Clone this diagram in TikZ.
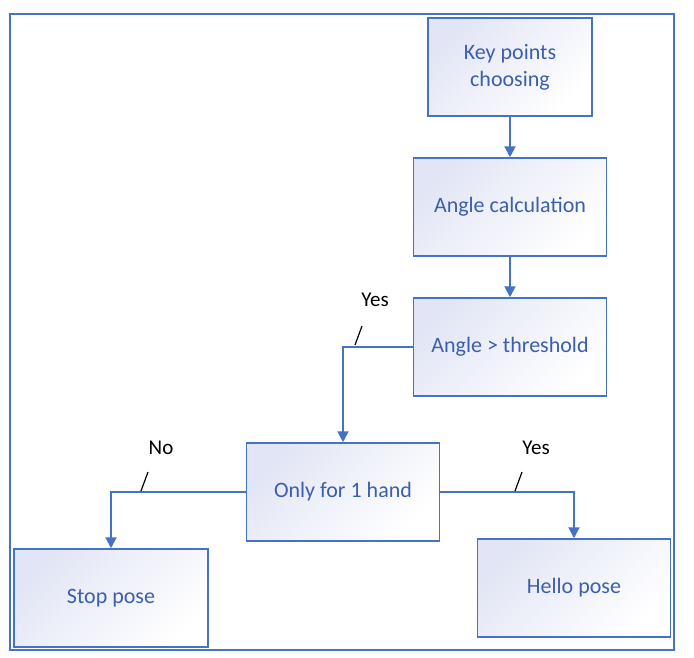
\documentclass[tikz,border=0pt]{standalone}
\usepackage{fontspec}
\setmainfont{Carlito}
\usetikzlibrary{arrows.meta}
\definecolor{bord}{HTML}{4472C4}
\definecolor{txt}{HTML}{3B5FAE}
\definecolor{shade}{HTML}{E2E5F5}
\begin{document}
\begin{tikzpicture}[x=1pt,y=-1pt,
  proc/.style={draw=bord,line width=1.5pt,left color=shade,right color=white,shading angle=45,
    text=txt,align=center,font=\fontsize{22}{27}\selectfont,inner sep=0pt},
  conn/.style={draw=bord,line width=2pt,-{Triangle[length=11pt,width=11pt]}},
  lbl/.style={font=\fontsize{21}{25}\selectfont,text=black},
  tick/.style={draw=black,line width=1.2pt}]
\useasboundingbox (0,0) rectangle (694,657);
\draw[bord,line width=2pt] (10,14) rectangle (674,650);
\node[proc,minimum width=164pt,minimum height=98pt] (key) at (510,67) {Key points\\choosing};
\node[proc,minimum width=193pt,minimum height=98pt] (calc) at (510,207) {Angle calculation};
\node[proc,minimum width=193pt,minimum height=98pt] (thr) at (510,347) {Angle > threshold};
\node[proc,minimum width=193pt,minimum height=98pt] (one) at (343,492) {Only for 1 hand};
\node[proc,minimum width=194pt,minimum height=98pt] (stop) at (111,598) {Stop pose};
\node[proc,minimum width=193pt,minimum height=98pt] (hello) at (574,588) {Hello pose};
\draw[conn] (key) -- (calc);
\draw[conn] (calc) -- (thr);
\draw[conn] (thr.west) -| (one.north);
\draw[conn] (one.west) -| (stop.north);
\draw[conn] (one.east) -| (hello.north);
\node[lbl] (y1) at (375,300) {Yes};
\node[lbl] (n1) at (161,448) {No};
\node[lbl] (y2) at (536,448) {Yes};
\coordinate (t1a) at (355,345); \coordinate (t1b) at (362,326);
\coordinate (t2a) at (141,491); \coordinate (t2b) at (148,472);
\coordinate (t3a) at (515,491); \coordinate (t3b) at (522,472);
\draw[tick] (t1a) -- (t1b);
\draw[tick] (t2a) -- (t2b);
\draw[tick] (t3a) -- (t3b);
\end{tikzpicture}
\end{document}
